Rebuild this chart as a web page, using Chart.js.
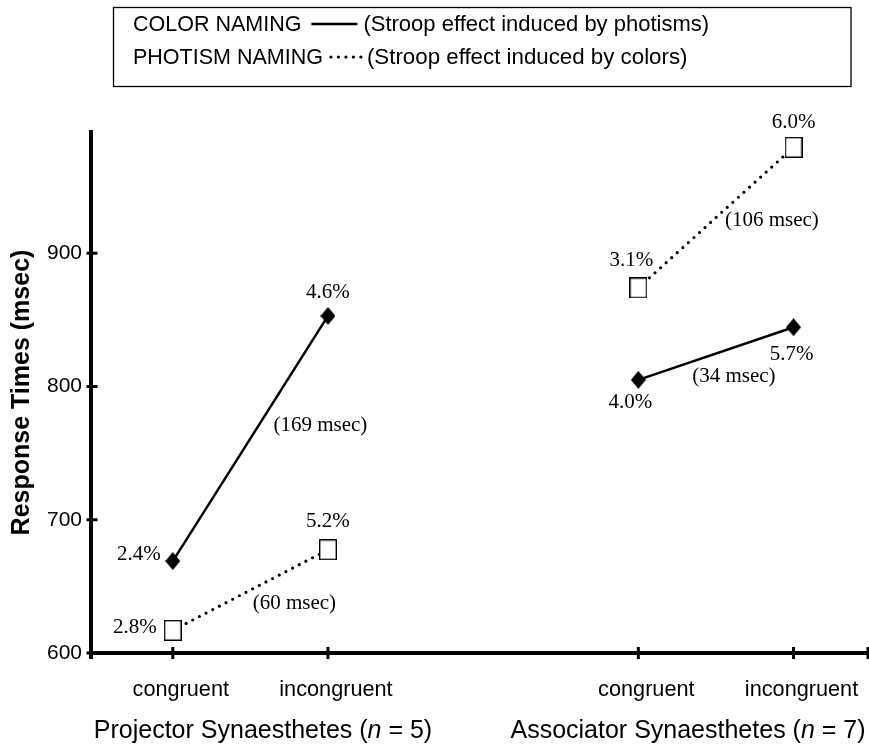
<!DOCTYPE html>
<html><head><meta charset="utf-8">
<style>html,body{margin:0;padding:0;background:#fff;} #wrap{width:869px;height:749px;}</style>
<script src="https://cdn.jsdelivr.net/npm/chart.js@4.4.1/dist/chart.umd.min.js"></script>
</head><body><div id="wrap"><canvas id="c" width="869" height="749"></canvas></div>
<script>
// ---- data ----
const categories = ['congruent', 'incongruent', 'congruent', 'incongruent'];
const categoryX = [0.5, 1.5, 3.5, 4.5];
const groupNames = ['Projector Synaesthetes', 'Associator Synaesthetes'];
const groupN = ['5', '7'];
const colorNamingRT = [669, 853, 805, 844.5];
const photismNamingRT = [617, 677.5, 874, 979.5];
const colorNamingErr = ['2.4%', '4.6%', '4.0%', '5.7%'];
const photismNamingErr = ['2.8%', '5.2%', '3.1%', '6.0%'];
const colorEffect = ['(169 msec)', '(34 msec)'];
const photismEffect = ['(60 msec)', '(106 msec)'];
const yTicks = [600, 700, 800, 900];
const legendNames = ['COLOR NAMING', 'PHOTISM NAMING'];
const legendNotes = ['(Stroop effect induced by photisms)', '(Stroop effect induced by colors)'];

// ---- styles ----
const SANS = '"Liberation Sans", Arial, Helvetica, sans-serif';
const SERIF = '"Liberation Serif", "Times New Roman", serif';

function makeDiamond() {
  const c = document.createElement('canvas'); c.width = 15; c.height = 18;
  const g = c.getContext('2d'); g.fillStyle = '#000';
  g.beginPath(); g.moveTo(7.5, 0); g.lineTo(15, 9); g.lineTo(7.5, 18); g.lineTo(0, 9); g.closePath(); g.fill();
  return c;
}
function makeSquare() {
  const c = document.createElement('canvas'); c.width = 18; c.height = 21;
  const g = c.getContext('2d'); g.fillStyle = '#fff'; g.fillRect(0, 0, 18, 21);
  g.strokeStyle = '#000'; g.lineWidth = 1.4; g.strokeRect(0.7, 0.7, 16.6, 19.6);
  return c;
}
const diamond = makeDiamond();
const square = makeSquare();

function seg(values, g) {
  return [0, 1].map(i => ({ x: categoryX[2 * g + i], y: values[2 * g + i] }));
}
const solidStyle = { borderColor: '#000', borderWidth: 2.5, pointStyle: diamond, pointRadius: 8, pointHoverRadius: 8, fill: false, tension: 0 };
const dotStyle = { borderColor: '#000', borderWidth: 3.2, borderDash: [0, 7.5], borderCapStyle: 'round', pointStyle: square, pointRadius: 9, pointHoverRadius: 9, fill: false, tension: 0 };

const datasets = [
  Object.assign({ label: 'COLOR NAMING (Projector)', data: seg(colorNamingRT, 0) }, solidStyle),
  Object.assign({ label: 'COLOR NAMING (Associator)', data: seg(colorNamingRT, 1) }, solidStyle),
  Object.assign({ label: 'PHOTISM NAMING (Projector)', data: seg(photismNamingRT, 0) }, dotStyle),
  Object.assign({ label: 'PHOTISM NAMING (Associator)', data: seg(photismNamingRT, 1) }, dotStyle)
];

// label offsets (style) relative to point pixels
const colorErrOff = [[-34, -7], [0, -23], [-8, 23], [-2, 27]];
const photErrOff = [[-38, -3], [0, -28], [-7, -27], [0, -25]];
const colorEffOff = [[70, -13], [18, 23]];
const photEffOff = [[44, 13], [56, 3]];

const annotPlugin = {
  id: 'annot',
  afterDraw(chart) {
    const ctx = chart.ctx;
    const xs = chart.scales.x, ys = chart.scales.y;
    const ax = xs.left, ay = ys.bottom;
    ctx.save();
    ctx.strokeStyle = '#000'; ctx.lineCap = 'butt';
    // y tick marks crossing axis
    ctx.lineWidth = 3;
    yTicks.forEach(v => {
      const py = ys.getPixelForValue(v);
      ctx.beginPath(); ctx.moveTo(ax - 4.5, py); ctx.lineTo(ax + 6.5, py); ctx.stroke();
    });
    // x tick marks crossing axis
    [...categoryX, xs.max].forEach(v => {
      const px = xs.getPixelForValue(v);
      ctx.beginPath(); ctx.moveTo(px, ay - 6); ctx.lineTo(px, ay + 6); ctx.stroke();
    });
    ctx.lineWidth = 4;
    ctx.beginPath(); ctx.moveTo(ax, ay); ctx.lineTo(ax, ay + 6); ctx.stroke();

    // data labels
    ctx.fillStyle = '#000';
    ctx.font = '21px ' + SERIF;
    ctx.textAlign = 'center'; ctx.textBaseline = 'middle';
    for (let k = 0; k < 4; k++) {
      const g = Math.floor(k / 2), i = k % 2;
      const pc = chart.getDatasetMeta(g).data[i];
      ctx.fillText(colorNamingErr[k], pc.x + colorErrOff[k][0], pc.y + colorErrOff[k][1]);
      const pp = chart.getDatasetMeta(2 + g).data[i];
      ctx.fillText(photismNamingErr[k], pp.x + photErrOff[k][0], pp.y + photErrOff[k][1]);
    }
    for (let g = 0; g < 2; g++) {
      const mc = chart.getDatasetMeta(g).data;
      ctx.fillText(colorEffect[g], (mc[0].x + mc[1].x) / 2 + colorEffOff[g][0], (mc[0].y + mc[1].y) / 2 + colorEffOff[g][1]);
      const mp = chart.getDatasetMeta(2 + g).data;
      ctx.fillText(photismEffect[g], (mp[0].x + mp[1].x) / 2 + photEffOff[g][0], (mp[0].y + mp[1].y) / 2 + photEffOff[g][1]);
    }

    // group labels
    const centers = [263, 688];
    ctx.textBaseline = 'middle'; ctx.textAlign = 'left';
    for (let g = 0; g < 2; g++) {
      const parts = [[groupNames[g] + ' (', ''], ['n', 'italic '], [' = ' + groupN[g] + ')', '']];
      let total = 0;
      parts.forEach(p => { ctx.font = p[1] + '25px ' + SANS; total += ctx.measureText(p[0]).width; });
      let x = centers[g] - total / 2;
      parts.forEach(p => { ctx.font = p[1] + '25px ' + SANS; ctx.fillText(p[0], x, 731); x += ctx.measureText(p[0]).width; });
    }

    // legend box
    ctx.lineWidth = 1.3;
    ctx.strokeRect(113.5, 7.5, 737.5, 79);
    ctx.textBaseline = 'alphabetic'; ctx.textAlign = 'left';
    const rows = [31, 64];
    for (let r = 0; r < 2; r++) {
      const x0 = 133;
      ctx.font = '21.5px ' + SANS;
      ctx.fillText(legendNames[r], x0, rows[r]);
      const w = ctx.measureText(legendNames[r]).width;
      const ly = rows[r] - 7;
      ctx.save();
      if (r === 0) {
        ctx.lineWidth = 2.5;
        ctx.beginPath(); ctx.moveTo(x0 + w + 10, ly); ctx.lineTo(x0 + w + 56, ly); ctx.stroke();
        ctx.restore();
        ctx.font = '22px ' + SANS;
        ctx.fillText(legendNotes[r], x0 + w + 62, rows[r]);
      } else {
        ctx.lineWidth = 3.2; ctx.lineCap = 'round'; ctx.setLineDash([0, 7.5]);
        ctx.beginPath(); ctx.moveTo(x0 + w + 8, ly); ctx.lineTo(x0 + w + 40, ly); ctx.stroke();
        ctx.restore();
        ctx.font = '22.3px ' + SANS;
        ctx.fillText(legendNotes[r], x0 + w + 44, rows[r]);
      }
    }
    ctx.restore();
  }
};

new Chart(document.getElementById('c'), {
  type: 'line',
  data: { datasets },
  options: {
    responsive: false, animation: false, devicePixelRatio: 1,
    layout: { autoPadding: false, padding: { top: 132, right: 1, left: 0, bottom: 0 } },
    plugins: { legend: { display: false }, tooltip: { enabled: false } },
    scales: {
      x: {
        type: 'linear', min: -0.027, max: 4.98,
        afterBuildTicks: s => { s.ticks = categoryX.map(v => ({ value: v })); },
        afterFit: s => { s.height = 96; s.paddingLeft = 0; s.paddingRight = 0; },
        grid: { display: false, drawTicks: false },
        border: { display: true, color: '#000', width: 4 },
        ticks: { font: { family: SANS, size: 21.7 }, color: '#000', padding: 24, labelOffset: 8, autoSkip: false, maxRotation: 0,
          callback: (v, i) => categories[i] }
      },
      y: {
        type: 'linear', min: 600, max: 991,
        afterBuildTicks: s => { s.ticks = yTicks.map(v => ({ value: v })); },
        afterFit: s => { s.width = 91; s.paddingTop = 0; s.paddingBottom = 0; },
        grid: { display: false, drawTicks: false },
        border: { display: true, color: '#000', width: 4 },
        ticks: { font: { family: SANS, size: 21 }, color: '#000', padding: 9, callback: v => String(v) },
        title: { display: true, text: 'Response Times (msec)', color: '#000',
          font: { family: SANS, size: 25, weight: 'bold' }, padding: { top: 7, bottom: 0 } }
      }
    }
  },
  plugins: [annotPlugin]
});
</script></body></html>
